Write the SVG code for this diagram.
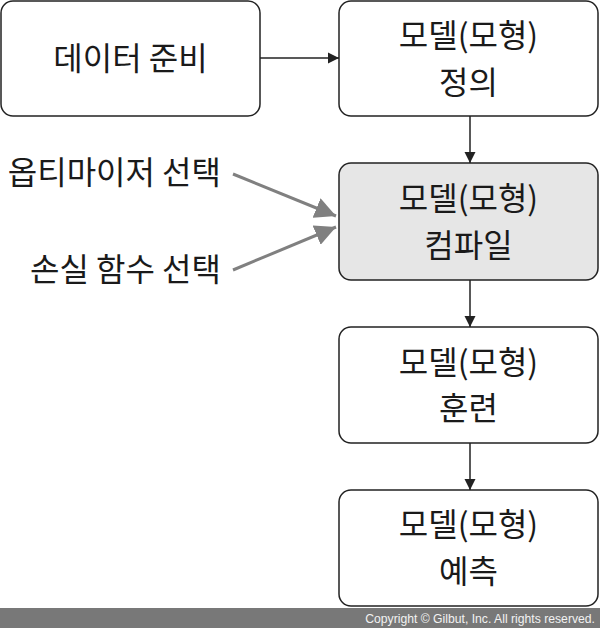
<svg xmlns="http://www.w3.org/2000/svg" width="600" height="628" viewBox="0 0 600 628">
<defs>
<style>
.box{fill:#fff;stroke:#222;stroke-width:1.5}
.hl{fill:#e6e6e6}
.t{font-family:"Noto Sans CJK KR","Noto Sans",sans-serif;font-size:32px;fill:#1a1a1a;text-anchor:middle}
.lbl{font-family:"Noto Sans CJK KR","Noto Sans",sans-serif;font-size:32px;fill:#1a1a1a;text-anchor:end}
.c{stroke:#222;stroke-width:1.5;fill:none}
.g{stroke:#808080;stroke-width:3;fill:none}
</style>
<marker id="ah" viewBox="0 0 10 10" refX="10" refY="5" markerWidth="11" markerHeight="12" markerUnits="userSpaceOnUse" orient="auto"><path d="M0,0L10,5L0,10z" fill="#222"/></marker>
<marker id="ahg" viewBox="0 0 10 10" refX="10" refY="5" markerWidth="7" markerHeight="7" orient="auto"><path d="M0,0L10,5L0,10z" fill="#808080"/></marker>
</defs>
<rect width="600" height="628" fill="#fff"/>
<g id="n1"><rect class="box" x="1" y="1" width="259" height="115" rx="12"/><text class="t" x="130.5" y="70">데이터 준비</text></g>
<g id="n2"><rect class="box" x="339" y="1" width="259" height="115" rx="12"/><text class="t" x="468.5" y="47">모델(모형)</text><text class="t" x="468.5" y="94">정의</text></g>
<g id="n3"><rect class="box hl" x="339" y="163" width="259" height="117" rx="12"/><text class="t" x="468.5" y="209.5">모델(모형)</text><text class="t" x="468.5" y="256.5">컴파일</text></g>
<g id="n4"><rect class="box" x="339" y="327" width="259" height="116" rx="12"/><text class="t" x="468.5" y="373.5">모델(모형)</text><text class="t" x="468.5" y="420">훈련</text></g>
<g id="n5"><rect class="box" x="339" y="490" width="259" height="116" rx="12"/><text class="t" x="468.5" y="536">모델(모형)</text><text class="t" x="468.5" y="583">예측</text></g>
<g id="l1"><text class="lbl" x="221" y="184">옵티마이저 선택</text></g>
<g id="l2"><text class="lbl" x="221" y="281">손실 함수 선택</text></g>
<g id="connectors">
<line class="c" x1="260" y1="58" x2="339" y2="58" marker-end="url(#ah)"/>
<line class="c" x1="470" y1="116" x2="470" y2="163" marker-end="url(#ah)"/>
<line class="c" x1="470" y1="280" x2="470" y2="327" marker-end="url(#ah)"/>
<line class="c" x1="470" y1="443" x2="470" y2="490" marker-end="url(#ah)"/>
<line class="g" x1="233" y1="174" x2="336" y2="216" marker-end="url(#ahg)"/>
<line class="g" x1="233" y1="270" x2="336" y2="227" marker-end="url(#ahg)"/>
</g>
<rect x="0" y="608" width="600" height="20" fill="#787878"/>
<text x="595" y="623" font-family="Liberation Sans,Arial,sans-serif" font-size="12.2" fill="#f2f2f2" text-anchor="end">Copyright © Gilbut, Inc. All rights reserved.</text>
</svg>
